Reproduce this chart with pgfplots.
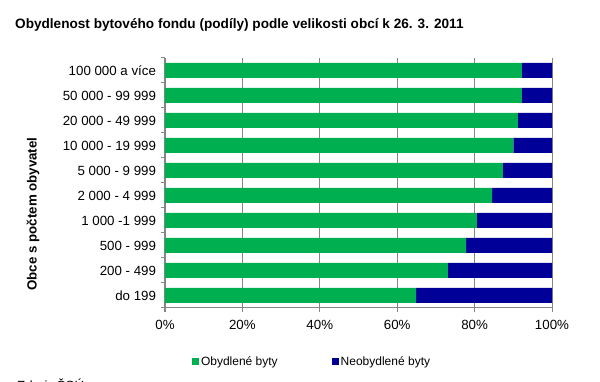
\documentclass[border=0pt]{standalone}
\usepackage{pgfplots}
\pgfplotsset{compat=1.18}
\usepackage{fontspec}
\setmainfont{Liberation Sans}
\definecolor{cgreen}{RGB}{0,176,80}
\definecolor{cblue}{RGB}{0,0,153}
\definecolor{cgrid}{RGB}{134,134,134}
\begin{document}
\begin{tikzpicture}[x=1pt,y=1pt]
\path[use as bounding box] (0,0) rectangle (600,382);
\node[anchor=base west,font=\bfseries\fontsize{13.6}{15}\selectfont,inner sep=0pt] at (15,353.7) {Obydlenost bytového fondu (podíly) podle velikosti obcí k 26. 3. 2011};
\node[rotate=90,font=\bfseries\fontsize{13.3}{15}\selectfont,inner sep=0pt] at (33,168) {Obce s počtem obyvatel};
\node[anchor=base west,font=\fontsize{13.3}{15}\selectfont,inner sep=0pt] at (17,-9) {Zdroj: ČSÚ};
\begin{axis}[
  at={(165pt,74pt)}, anchor=south west,
  scale only axis, width=387pt, height=250pt,
  xbar stacked, bar width=15pt,
  xmin=0, xmax=100, ymin=-0.5, ymax=9.5,
  xtick={0,20,40,60,80,100},
  xticklabels={0\%,20\%,40\%,60\%,80\%,100\%},
  ytick={-0.5,0.5,...,9.5},
  y tick label as interval,
  yticklabels={do 199,200 - 499,500 - 999,1 000 -1 999,2 000 - 4 999,5 000 - 9 999,10 000 - 19 999,20 000 - 49 999,50 000 - 99 999,100 000 a více},
  axis x line*=bottom, axis y line*=left,
  axis line style={cgrid,line width=1pt,-},
  tick style={cgrid,line width=1pt},
  tick align=outside, major tick length=4pt,
  xmajorgrids, grid style={cgrid,line width=1pt},
  ticklabel style={font=\fontsize{13.3}{15}\selectfont},
  xticklabel style={yshift=-4.5pt},
  yticklabel style={xshift=-1.5pt},
  /pgf/number format/assume math mode=true,
  legend style={at={(0.38,-0.216)},anchor=center,draw=none,fill=none,
    legend columns=2,font=\fontsize{12}{14}\selectfont,
    /tikz/every even column/.append style={column sep=52pt},
    inner sep=0pt, cells={anchor=west}},
  legend image code/.code={\fill[#1,draw=none] (0pt,-3.5pt) rectangle (7pt,3.5pt);},
]
\addplot[fill=cgreen,draw=none] coordinates {(64.9,0) (73.1,1) (77.8,2) (80.6,3) (84.5,4) (87.3,5) (90.0,6) (91.2,7) (92.2,8) (92.2,9)};
\addplot[fill=cblue,draw=none] coordinates {(35.1,0) (26.9,1) (22.2,2) (19.4,3) (15.5,4) (12.7,5) (10.0,6) (8.8,7) (7.8,8) (7.8,9)};
\legend{Obydlené byty,Neobydlené byty}
\end{axis}
\end{tikzpicture}
\end{document}
